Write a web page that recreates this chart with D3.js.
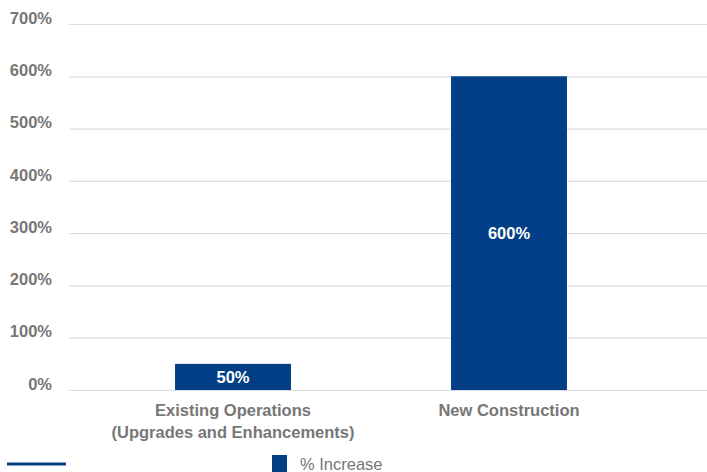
<!DOCTYPE html>
<html>
<head>
<meta charset="utf-8">
<script src="https://cdn.jsdelivr.net/npm/d3@7/dist/d3.min.js"></script>
<style>
  html, body { margin: 0; padding: 0; background: #fff; }
  svg { display: block; font-family: "Liberation Sans", Arial, Helvetica, sans-serif; }
</style>
</head>
<body>
<svg id="chart" width="707" height="472"></svg>
<script>
// Chart data
const categories = [
  ["Existing Operations", "(Upgrades and Enhancements)"],
  ["New Construction"]
];
const increaseValues = [50, 600];
const valueLabels = ["50%", "600%"];
const tickValues = [0, 100, 200, 300, 400, 500, 600, 700];
const seriesName = "% Increase";

const W = 707, H = 472;
const barColor = "#033f86";
const textColor = "#777777";
const gridColor = "#dedede";

const svg = d3.select("#chart");

const keys = categories.map((c, i) => i);

const x = d3.scaleBand()
  .domain(keys)
  .range([95, 647])
  .paddingInner(0.58)
  .paddingOuter(0.29);

const y = d3.scaleLinear()
  .domain([0, 700])
  .range([390, 24]);

// Gridlines with percentage tick labels
const yAxis = d3.axisLeft(y)
  .tickValues(tickValues)
  .tickSize(-(W - 69))
  .tickPadding(17)
  .tickFormat(d => d + "%");

const yg = svg.append("g")
  .attr("transform", "translate(69,0)")
  .call(yAxis);
yg.select(".domain").remove();
yg.selectAll(".tick line")
  .attr("stroke", gridColor)
  .attr("stroke-width", 1.2);
yg.selectAll(".tick text")
  .attr("fill", textColor)
  .attr("font-size", "16.5px")
  .attr("font-weight", "bold")
  .attr("dy", "-0.05em")
  .attr("x", -17);

// Bars
svg.append("g")
  .selectAll("rect")
  .data(increaseValues)
  .join("rect")
  .attr("x", (d, i) => x(i))
  .attr("width", x.bandwidth())
  .attr("y", d => y(d))
  .attr("height", d => y(0) - y(d))
  .attr("fill", barColor);

// Value labels inside bars
svg.append("g")
  .selectAll("text")
  .data(increaseValues)
  .join("text")
  .attr("x", (d, i) => x(i) + x.bandwidth() / 2)
  .attr("y", d => (y(d) + y(0)) / 2)
  .attr("dy", "0.35em")
  .attr("text-anchor", "middle")
  .attr("fill", "#ffffff")
  .attr("font-size", "16.5px")
  .attr("font-weight", "bold")
  .text((d, i) => valueLabels[i]);

// Category labels
const catG = svg.append("g");
categories.forEach((lines, i) => {
  const t = catG.append("text")
    .attr("x", x(i) + x.bandwidth() / 2)
    .attr("y", 416)
    .attr("text-anchor", "middle")
    .attr("fill", textColor)
    .attr("font-size", "16.5px")
    .attr("font-weight", "bold");
  lines.forEach((line, j) => {
    t.append("tspan")
      .attr("x", x(i) + x.bandwidth() / 2)
      .attr("dy", j === 0 ? 0 : 22)
      .text(line);
  });
});

// Legend
svg.append("line")
  .attr("x1", 7).attr("x2", 66)
  .attr("y1", 464).attr("y2", 464)
  .attr("stroke", barColor)
  .attr("stroke-width", 3);

svg.append("rect")
  .attr("x", 272).attr("y", 455)
  .attr("width", 15).attr("height", 17)
  .attr("fill", barColor);

svg.append("text")
  .attr("x", 300)
  .attr("y", 470)
  .attr("fill", textColor)
  .attr("font-size", "16.5px")
  .text(seriesName);
</script>
</body>
</html>
